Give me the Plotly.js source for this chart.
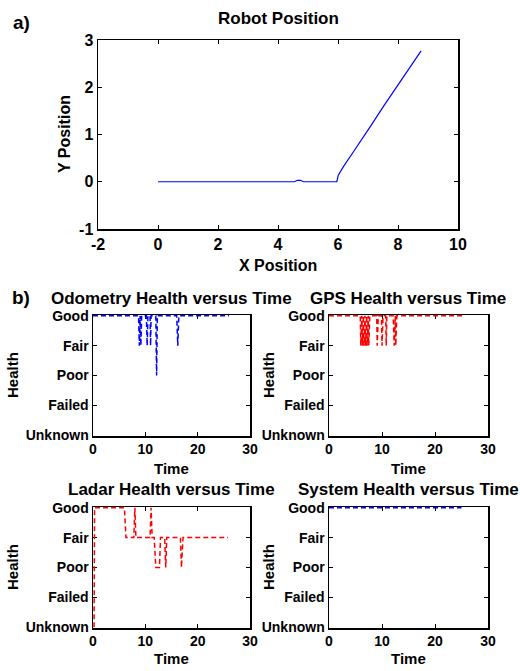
<!DOCTYPE html>
<html>
<head>
<meta charset="utf-8">
<script src="https://cdn.plot.ly/plotly-3.0.1.min.js"></script>
<style>html,body{margin:0;padding:0;background:#fff;}#chart{width:520px;height:671px;}</style>
</head>
<body>
<div id="chart"></div>
<script>
// ---- Data ----
const robotX = [0, 4.55, 4.65, 4.75, 4.85, 5.96, 6.01, 6.18, 6.51, 6.73, 7.07, 7.51, 7.99, 8.18, 8.4, 8.77];
const robotY = [0, 0, 0.03, 0.03, 0, 0, 0.14, 0.32, 0.63, 0.83, 1.16, 1.59, 2.03, 2.21, 2.42, 2.77];

const xTickVals = [-2, 0, 2, 4, 6, 8, 10];
const xTickText = ['-2', '0', '2', '4', '6', '8', '10'];
const yTickVals = [-1, 0, 1, 2, 3];
const yTickText = ['-1', '0', '1', '2', '3'];

const healthLabels = ['Unknown', 'Failed', 'Poor', 'Fair', 'Good'];
const healthLevels = [0, 1, 2, 3, 4];
const timeTicks = [0, 10, 20, 30];

const odoT = [0, 8.7, 8.85, 9.0, 9.15, 9.3, 10.2, 10.35, 10.5, 10.9, 11.0, 11.1, 12.0, 12.15, 12.3, 16.0, 16.2, 16.4, 26];
const odoH = [4, 4, 3, 4, 3, 4, 4, 3, 4, 4, 3, 4, 4, 2, 4, 4, 3, 4, 4];

const gpsT = [0, 5.9, 6.0, 6.2, 6.3, 6.5, 6.6, 6.8, 6.9, 7.1, 7.2, 7.4, 7.5, 7.7, 9.0, 9.1, 9.3, 9.9, 10.0, 10.2, 10.7, 10.8, 10.9, 12.1, 12.3, 12.5, 12.6, 12.8, 25.3];
const gpsH = [4, 4, 3, 4, 3, 4, 3, 4, 3, 4, 3, 4, 3, 4, 4, 3, 4, 4, 3, 4, 4, 3, 4, 4, 3, 4, 3, 4, 4];

const ladarT = [0.2, 0.3, 6.0, 6.3, 7.8, 8.0, 8.2, 10.9, 11.1, 11.3, 11.7, 12.0, 12.7, 12.9, 13.7, 13.9, 14.1, 16.7, 16.9, 17.2, 25.8];
const ladarH = [0, 4, 4, 3, 3, 4, 3, 3, 4, 3, 3, 2, 2, 3, 3, 2, 3, 3, 2, 3, 3];

const sysT = [0, 25];
const sysH = [4, 4];

// ---- Styling helpers ----
const W = 520, H = 671;
const FAM = 'Liberation Sans, Arial, Helvetica, sans-serif';
const px = v => v / W;
const py = v => 1 - v / H;

function frame(extra) {
  return Object.assign({
    showline: true, mirror: 'ticks', linecolor: '#000', linewidth: 1.5,
    ticks: 'inside', ticklen: 4, tickwidth: 1, tickcolor: '#000',
    showgrid: false, zeroline: false, layer: 'below traces',
    fixedrange: true
  }, extra);
}

const DASH = '5px,3px';
const traces = [
  {x: robotX, y: robotY, xaxis: 'x', yaxis: 'y', mode: 'lines', line: {color: 'rgb(0,0,255)', width: 1.2}},
  {x: odoT, y: odoH, xaxis: 'x2', yaxis: 'y2', mode: 'lines', line: {color: 'rgb(0,0,255)', width: 1.5, dash: DASH}},
  {x: gpsT, y: gpsH, xaxis: 'x3', yaxis: 'y3', mode: 'lines', line: {color: 'rgb(255,0,0)', width: 1.5, dash: DASH}},
  {x: ladarT, y: ladarH, xaxis: 'x4', yaxis: 'y4', mode: 'lines', line: {color: 'rgb(255,0,0)', width: 1.5, dash: DASH}},
  {x: sysT, y: sysH, xaxis: 'x5', yaxis: 'y5', mode: 'lines', line: {color: 'rgb(0,0,255)', width: 1.5, dash: DASH}}
];

const bigTick = {family: FAM, size: 16, color: '#000', weight: 'bold'};
const smallTick = {family: FAM, size: 14, color: '#000', weight: 'bold'};

function healthY(dom, anchor) {
  return frame({domain: dom, range: [-0.025, 4.025], tickvals: healthLevels, ticktext: healthLabels, tickfont: smallTick, anchor: anchor});
}
function timeX(dom, anchor) {
  return frame({domain: dom, range: [0, 30], tickvals: timeTicks, tickfont: smallTick, anchor: anchor});
}

const topRow = [py(436), py(315)];
const botRow = [py(628), py(507)];
const leftCol = [px(93), px(250)];
const rightCol = [px(329), px(488)];

function ann(text, x, y, size, angle) {
  return {text: text, xref: 'paper', yref: 'paper', x: px(x), y: py(y), xanchor: 'center', yanchor: 'middle',
    showarrow: false, textangle: angle || 0, font: {family: FAM, size: size, color: '#000', weight: 'bold'}};
}

const layout = {
  width: W, height: H, margin: {l: 0, r: 0, t: 0, b: 0},
  paper_bgcolor: '#fff', plot_bgcolor: '#fff', showlegend: false,
  xaxis: frame({domain: [px(98), px(458)], range: [-2, 10], tickvals: xTickVals, ticktext: xTickText, tickfont: bigTick, anchor: 'y'}),
  yaxis: frame({domain: [py(229), py(40)], range: [-1, 3], tickvals: yTickVals, ticktext: yTickText, tickfont: bigTick, anchor: 'x'}),
  xaxis2: timeX(leftCol, 'y2'), yaxis2: healthY(topRow, 'x2'),
  xaxis3: timeX(rightCol, 'y3'), yaxis3: healthY(topRow, 'x3'),
  xaxis4: timeX(leftCol, 'y4'), yaxis4: healthY(botRow, 'x4'),
  xaxis5: timeX(rightCol, 'y5'), yaxis5: healthY(botRow, 'x5'),
  annotations: [
    ann('a)', 21, 22, 19),
    ann('Robot Position', 278, 18, 17),
    ann('X Position', 278, 265, 16),
    ann('Y Position', 65, 134, 16, -90),
    ann('b)', 21, 297, 19),
    ann('Odometry Health versus Time', 171, 298, 17),
    ann('GPS Health versus Time', 408, 298, 17),
    ann('Ladar Health versus Time', 171, 489, 17),
    ann('System Health versus Time', 408, 489, 17),
    ann('Time', 171, 468, 15), ann('Time', 408, 468, 15),
    ann('Time', 171, 658, 15), ann('Time', 408, 658, 15),
    ann('Health', 12, 375, 15, -90), ann('Health', 268, 375, 15, -90),
    ann('Health', 12, 567, 15, -90), ann('Health', 268, 567, 15, -90)
  ]
};

Plotly.newPlot('chart', traces, layout, {staticPlot: true, displayModeBar: false});
</script>
</body>
</html>
